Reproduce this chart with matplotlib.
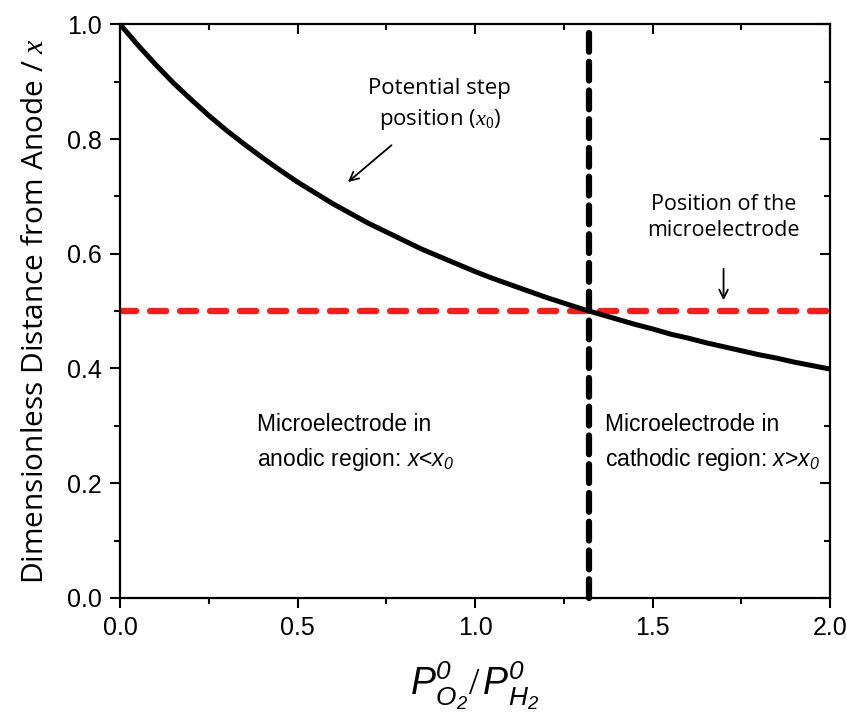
import matplotlib
matplotlib.use("Agg")
from matplotlib import pyplot as plt
from matplotlib.ticker import MultipleLocator
import numpy as np

# values
ratio = [0.0, 0.05, 0.1, 0.15, 0.2, 0.25, 0.3, 0.35, 0.4, 0.45, 0.5,
         0.55, 0.6, 0.65, 0.7, 0.75, 0.8, 0.85, 0.9, 0.95, 1.0,
         1.05, 1.1, 1.15, 1.2, 1.25, 1.3, 1.35, 1.4, 1.45, 1.5,
         1.55, 1.6, 1.65, 1.7, 1.75, 1.8, 1.85, 1.9, 1.95, 2.0]
stepPos = [1.0, 0.964, 0.930, 0.898, 0.869, 0.841, 0.815, 0.791, 0.768, 0.746, 0.725,
           0.706, 0.687, 0.670, 0.653, 0.638, 0.623, 0.608, 0.595, 0.582, 0.569,
           0.557, 0.546, 0.535, 0.524, 0.514, 0.504, 0.495, 0.486, 0.477, 0.469,
           0.460, 0.453, 0.445, 0.438, 0.431, 0.424, 0.418, 0.411, 0.405, 0.399]
electrodePos = 0.5
crossRatio = 1.32

NARROW = ['Liberation Sans', 'DejaVu Sans']
LABEL = ['Open Sans', 'DejaVu Sans']

plt.rcParams['mathtext.fontset'] = 'custom'
plt.rcParams['mathtext.it'] = 'Liberation Serif:italic'
plt.rcParams['mathtext.rm'] = 'Liberation Serif'
plt.rcParams['mathtext.sf'] = 'Liberation Sans:italic'

fig = plt.figure(figsize=(8.47, 7.14), dpi=100)
ax = fig.add_axes([0.1417, 0.1625, 0.8383, 0.8035])

ax.plot(ratio, stepPos, color='black', lw=3.6, solid_capstyle='butt', zorder=3)
ax.plot([0, 2], [electrodePos, electrodePos], color='#ff1a1a', lw=4.5,
        dashes=(2.6, 2.2), dash_capstyle='round', zorder=2)
ax.plot([crossRatio, crossRatio], [0, 1], color='black', lw=4.5,
        dashes=(3.0, 1.6), dash_capstyle='round', zorder=4, clip_on=False)

ax.set_xlim(0, 2)
ax.set_ylim(0, 1)
ax.xaxis.set_minor_locator(MultipleLocator(0.25))
ax.yaxis.set_minor_locator(MultipleLocator(0.1))
ax.set_xticks([0, 0.5, 1.0, 1.5, 2.0])
ax.set_xticklabels(['0.0', '0.5', '1.0', '1.5', '2.0'])
ax.set_yticks([0, 0.2, 0.4, 0.6, 0.8, 1.0])
ax.set_yticklabels(['0.0', '0.2', '0.4', '0.6', '0.8', '1.0'])
for lab in ax.get_xticklabels() + ax.get_yticklabels():
    lab.set_family(NARROW)
    lab.set_fontsize(18)

ax.tick_params(which='major', direction='out', length=7, width=1.5, pad=6)
ax.tick_params(which='minor', direction='out', length=4, width=1.5)
ax.tick_params(which='both', top=True, right=True)
# mirror ticks point inwards
for t in ax.xaxis.get_major_ticks() + ax.xaxis.get_minor_ticks():
    t.tick2line.set_marker(3)
for t in ax.yaxis.get_major_ticks() + ax.yaxis.get_minor_ticks():
    t.tick2line.set_marker(0)
for s in ax.spines.values():
    s.set_linewidth(1.6)

ax.set_ylabel('Dimensionless Distance from Anode / $x$', family=LABEL, fontsize=21.5, labelpad=12)
ax.set_xlabel('$\\mathsf{P^0_{O_2}}/\\,\\mathsf{P^0_{H_2}}$', family=NARROW, fontsize=27, labelpad=14)

ax.annotate('Potential step\nposition ($x_0$)', xy=(0.642, 0.725), xytext=(0.90, 0.86),
            ha='center', va='center', family=LABEL, fontsize=16, linespacing=1.45,
            arrowprops=dict(arrowstyle='->', color='black', lw=1.3, shrinkA=12, shrinkB=0))
ax.annotate('Position of the\nmicroelectrode', xy=(1.70, 0.519), xytext=(1.70, 0.663),
            ha='center', va='center', family=LABEL, fontsize=15.5, linespacing=1.3,
            arrowprops=dict(arrowstyle='->', color='black', lw=1.3, shrinkA=18, shrinkB=0))

ax.text(0.386, 0.27, 'Microelectrode in\nanodic region: $\\mathsf{x}$<$\\mathsf{x_0}$', ha='left',
        va='center', family=NARROW, fontsize=16.5, linespacing=1.5)
ax.text(1.366, 0.27, 'Microelectrode in\ncathodic region: $\\mathsf{x}$>$\\mathsf{x_0}$', ha='left',
        va='center', family=NARROW, fontsize=16.5, linespacing=1.5)

fig.savefig('out.png', dpi=100)
